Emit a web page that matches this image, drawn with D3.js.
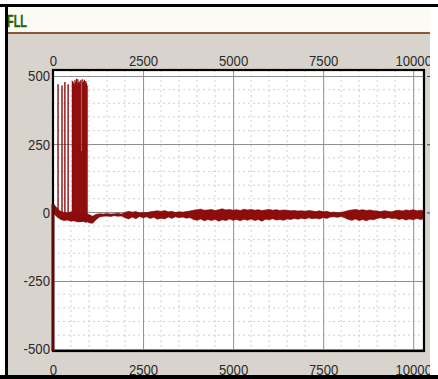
<!DOCTYPE html>
<html>
<head>
<meta charset="utf-8">
<script src="https://cdn.jsdelivr.net/npm/d3@7"></script>
<style>
  html, body { margin: 0; padding: 0; background: #fff; }
  svg { display: block; }
  .tick text { font-family: "Liberation Sans", Arial, sans-serif; font-size: 15.5px; fill: #2a2a2a; }
</style>
</head>
<body>
<script>
// tick labels
const xTicks = [0, 2500, 5000, 7500, 10000];
const yTicks = [500, 250, 0, -250, -500];

// noise band of the FLL trace (time, low, high)
const bandT = [0, 50, 100, 150, 200, 300, 400, 500, 600, 700, 800, 900,
  1000, 1100, 1200, 1300, 1400, 1500, 1600, 1700, 1800, 1900,
  2000, 2100, 2200, 2300, 2400, 2500, 2600, 2700, 2800, 2900,
  3000, 3100, 3200, 3300, 3400, 3500, 3600, 3700, 3800, 3900,
  4000, 4100, 4200, 4300, 4400, 4500, 4600, 4700, 4800, 4900,
  5000, 5100, 5200, 5300, 5400, 5500, 5600, 5700, 5800, 5900,
  6000, 6100, 6200, 6300, 6400, 6500, 6600, 6700, 6800, 6900,
  7000, 7100, 7200, 7300, 7400, 7500, 7600, 7700, 7800, 7900,
  8000, 8100, 8200, 8300, 8400, 8500, 8600, 8700, 8800, 8900,
  9000, 9100, 9200, 9300, 9400, 9500, 9600, 9700, 9800, 9900,
  10000, 10100, 10200, 10300];
const bandLow = [-5, -8, -15, -20, -25, -30, -28, -32, -30, -35, -33, -30,
  -38, -40, -26, -16, -14, -13, -15, -12, -14, -13,
  -20, -24, -17, -23, -15, -20, -16, -22, -18, -25,
  -21, -24, -17, -22, -16, -20, -17, -21, -19, -26,
  -29, -24, -31, -26, -30, -25, -32, -27, -30, -24,
  -29, -26, -31, -25, -29, -24, -30, -26, -32, -25,
  -27, -23, -28, -26, -29, -24, -26, -22, -25, -21,
  -24, -20, -23, -21, -24, -19, -22, -17, -16, -18,
  -15, -20, -26, -29, -24, -30, -26, -31, -25, -27,
  -22, -20, -23, -19, -22, -21, -26, -23, -28, -24,
  -27, -22, -26, -23];
const bandHigh = [30, 25, 18, 10, 5, 0, -2, 2, 0, -3, 0, -5,
  -8, -14, -7, -5, -6, -4, -6, -5, -3, -6,
  0, 4, 1, 3, -2, 0, -1, 2, 4, 6,
  3, 7, 2, 4, 0, 2, 1, 3, 5, 8,
  10, 12, 8, 9, 11, 7, 10, 13, 9, 11,
  8, 10, 7, 12, 9, 11, 8, 10, 7, 9,
  11, 8, 10, 7, 9, 8, 6, 7, 5, 6,
  4, 7, 5, 3, 6, 2, 4, 0, 1, -1,
  0, 3, 7, 9, 11, 8, 10, 7, 9, 6,
  5, 3, 6, 4, 2, 6, 8, 5, 9, 7,
  10, 6, 8, 7];

// startup transient at t = 0
const startT = [0, 0];
const startV = [-530, 30];

// bursts during lock acquisition (time, peak)
const spikeT = [140, 250, 330, 420, 540,
  570, 590, 610, 630, 650, 670, 690, 710, 730, 750, 770, 790, 810, 830, 850, 870, 890, 910, 930, 945];
const spikeTop = [470, 465, 478, 470, 482,
  476, 468, 484, 478, 490, 472, 488, 476, 480, 470, 484, 225, 488, 476, 480, 486, 470, 482, 474, 465];
const spikeBase = [-20, -22, -25, -25, -28,
  -30, -32, -30, -33, -30, -35, -33, -32, -34, -35, -33, -35, -30, -34, -32, -36, -34, -38, -35, -36];

const W = 438, H = 379;
const svg = d3.select("body").append("svg").attr("width", W).attr("height", H);

// window frame
svg.append("rect").attr("x", 7).attr("y", 6).attr("width", 423).attr("height", 370).attr("fill", "#d8d4cd");
svg.append("rect").attr("x", 7).attr("y", 7).attr("width", 423).attr("height", 25).attr("fill", "#fbfaf4");
svg.append("rect").attr("x", 7).attr("y", 32).attr("width", 423).attr("height", 2).attr("fill", "#8c5a3a");
svg.append("text").attr("x", 7).attr("y", 27)
  .attr("font-family", "'Liberation Sans', Arial, sans-serif")
  .attr("font-size", 17).attr("font-weight", "bold").attr("fill", "#1f650b")
  .attr("stroke", "#1f650b").attr("stroke-width", 0.4)
  .attr("textLength", 20).attr("lengthAdjust", "spacingAndGlyphs").text("FLL");

const pLeft = 53, pRight = 424, pTop = 70, pBottom = 351;
const x = d3.scaleLinear().domain([0, 10300]).range([pLeft, pRight]);
const y = d3.scaleLinear().domain([-508, 522]).range([pBottom, pTop]);

svg.append("rect").attr("x", pLeft).attr("y", pTop).attr("width", pRight - pLeft).attr("height", pBottom - pTop).attr("fill", "#fff");

svg.append("clipPath").attr("id", "plot").append("rect")
  .attr("x", pLeft).attr("y", pTop).attr("width", pRight - pLeft).attr("height", pBottom - pTop);
svg.append("clipPath").attr("id", "plotv").append("rect")
  .attr("x", pLeft - 5).attr("y", pTop).attr("width", pRight - pLeft + 5).attr("height", pBottom - pTop);
svg.append("clipPath").attr("id", "panel").append("rect")
  .attr("x", 7).attr("y", 34).attr("width", 423).attr("height", 341);

const grid = svg.append("g").attr("clip-path", "url(#plot)");
// minor grid
grid.selectAll(".mx").data(d3.range(500, 10300, 500).filter(v => v % 2500 !== 0)).join("line")
  .attr("x1", d => x(d)).attr("x2", d => x(d)).attr("y1", pTop).attr("y2", pBottom)
  .attr("stroke", "#cfcfcf").attr("stroke-dasharray", "2,3");
grid.selectAll(".my").data(d3.range(-500, 550, 50).filter(v => v % 250 !== 0)).join("line")
  .attr("y1", d => y(d)).attr("y2", d => y(d)).attr("x1", pLeft).attr("x2", pRight)
  .attr("stroke", "#cfcfcf").attr("stroke-dasharray", "2,3");
// major grid
grid.selectAll(".gx").data(xTicks).join("line")
  .attr("x1", d => x(d) + 0.5).attr("x2", d => x(d) + 0.5).attr("y1", pTop).attr("y2", pBottom)
  .attr("stroke", "#8f8f8f");
grid.selectAll(".gy").data(yTicks).join("line")
  .attr("y1", d => Math.round(y(d)) + 0.5).attr("y2", d => Math.round(y(d)) + 0.5).attr("x1", pLeft).attr("x2", pRight)
  .attr("stroke", "#8f8f8f");

// data
const traceColor = "#8e0c0c";
const plot = svg.append("g").attr("clip-path", "url(#plot)");
const band = bandT.map((t, i) => ({ t, lo: bandLow[i], hi: bandHigh[i] }));
plot.append("path").datum(band)
  .attr("d", d3.area().x(d => x(d.t)).y0(d => y(d.lo)).y1(d => y(d.hi)))
  .attr("fill", traceColor).attr("stroke", "#6e0707").attr("stroke-width", 0.6);

plot.selectAll(".spike").data(spikeT.map((t, i) => ({ t, peak: spikeTop[i], base: spikeBase[i], i }))).join("line")
  .attr("x1", d => x(d.t)).attr("x2", d => x(d.t))
  .attr("y1", d => y(d.base)).attr("y2", d => y(d.peak))
  .attr("stroke", traceColor).attr("stroke-width", d => d.i < 5 ? 1.4 : 1.3);

// plot border
svg.append("rect").attr("x", pLeft).attr("y", pTop).attr("width", pRight - pLeft).attr("height", pBottom - pTop)
  .attr("fill", "none").attr("stroke", "#000").attr("stroke-width", 2.2);

// startup transient drawn over the left border
svg.append("g").attr("clip-path", "url(#plotv)").append("path")
  .datum(startT.map((t, i) => [t, startV[i]]))
  .attr("d", d3.line().x(d => x(d[0])).y(d => y(d[1])))
  .attr("stroke", "#5e0a0a").attr("stroke-width", 3).attr("fill", "none");

// axes (labels only)
const fmt = d => String(d);
const squeeze = g => g.selectAll(".tick text").each(function () {
  const s = this.textContent;
  let w = 0;
  for (const c of s) w += c === "-" ? 4.5 : 7.3;
  d3.select(this).attr("textLength", w).attr("lengthAdjust", "spacingAndGlyphs");
});
const axes = svg.append("g").attr("clip-path", "url(#panel)");
axes.append("g").attr("transform", `translate(0,${pTop})`)
  .call(d3.axisTop(x).tickValues(xTicks).tickSize(0).tickPadding(4).tickFormat(fmt))
  .call(g => g.select(".domain").remove()).call(squeeze);
axes.append("g").attr("transform", `translate(0,${pBottom})`)
  .call(d3.axisBottom(x).tickValues(xTicks).tickSize(0).tickPadding(13).tickFormat(fmt))
  .call(g => g.select(".domain").remove()).call(squeeze);
axes.append("g").attr("transform", `translate(${pLeft},0)`)
  .call(d3.axisLeft(y).tickValues(yTicks).tickSize(0).tickPadding(3).tickFormat(fmt))
  .call(g => g.select(".domain").remove()).call(squeeze);
// right axis: only the tick marks show before the window edge
axes.append("g").attr("transform", `translate(${pRight + 3},0)`)
  .call(d3.axisRight(y).tickValues(yTicks.slice(0, 3)).tickSize(3).tickFormat(""))
  .call(g => g.select(".domain").remove())
  .call(g => g.selectAll(".tick line").attr("stroke", "#444"));

// outer black edges
svg.append("rect").attr("x", 0).attr("y", 4).attr("width", W).attr("height", 3).attr("fill", "#000");
svg.append("rect").attr("x", 5).attr("y", 4).attr("width", 3).attr("height", H - 4).attr("fill", "#000");
svg.append("rect").attr("x", 0).attr("y", 375).attr("width", W).attr("height", 4).attr("fill", "#000");
</script>
</body>
</html>
